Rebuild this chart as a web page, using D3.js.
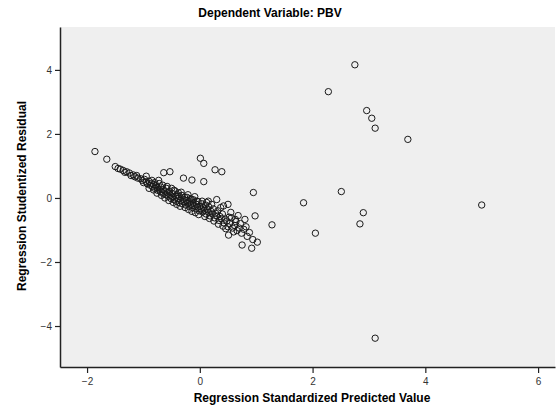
<!DOCTYPE html>
<html>
<head>
<meta charset="utf-8">
<script src="https://cdn.jsdelivr.net/npm/d3@7"></script>
<style>
  body { margin: 0; background: #fff; }
  svg { display: block; font-family: "Liberation Sans", Arial, sans-serif; }
</style>
</head>
<body>
<div class="vis-scatter"></div>
<script>
// standardized predicted value (x) and studentized residual (y)
const predicted = [
  -1.86, -1.65, -1.50, -1.45, -1.41, -1.36, -1.33, -1.30, -1.25, -1.22, -1.18, -1.15, -1.12, -1.10,
  -1.05, -1.02, -1.00, -0.98, -0.95, -0.93, -0.90, -0.88, -0.86, -0.84, -0.82, -0.82, -0.80,
  -0.78, -0.76, -0.75, -0.73, -0.72, -0.70, -0.69, -0.67, -0.65, -0.64, -0.64, -0.62, -0.60,
  -0.59, -0.57, -0.56, -0.54, -0.53, -0.52, -0.51, -0.49, -0.48, -0.46, -0.45, -0.43, -0.42,
  -0.40, -0.39, -0.37, -0.36, -0.34, -0.33, -0.31, -0.30, -0.29, -0.28, -0.27, -0.25, -0.24,
  -0.22, -0.21, -0.19, -0.18, -0.16, -0.15, -0.14, -0.13, -0.12, -0.10, -0.09, -0.07, -0.06,
  -0.04, -0.03, -0.01, 0.00, 0.01, 0.02, 0.03, 0.05, 0.06, 0.07, 0.07, 0.08, 0.10, 0.11,
  0.13, 0.15, 0.15, 0.16, 0.18, 0.20, 0.22, 0.24, 0.26, 0.27, 0.28, 0.30, 0.30, 0.32, 0.34,
  0.36, 0.38, 0.39, 0.40, 0.42, 0.43, 0.45, 0.48, 0.50, 0.50, 0.51, 0.53, 0.55, 0.56, 0.58,
  0.62, 0.63, 0.66, 0.68, 0.70, 0.74, 0.75, 0.78, 0.80, 0.84, 0.88, 0.92, 0.94, 0.95, 0.98,
  1.02, 1.28,
  -0.95, -0.90, -0.85, -0.80, -0.76, -0.72, -0.68, -0.66, -0.62, -0.58, -0.55, -0.50, -0.47,
  -0.44, -0.41, -0.38, -0.35, -0.32, -0.26, -0.23, -0.20, -0.17, -0.14, -0.11, -0.08, -0.05,
  -0.02, 0.04, 0.09, 0.12, 0.17, 0.21, 0.25, 0.33, 0.37, 0.41, 0.46, 0.52, 0.60, 0.64, 0.72, 0.82,
  1.84, 2.05, 2.28, 2.51, 2.75, 2.84, 2.90, 2.96, 3.05, 3.11, 3.11, 3.69, 5.00
];
const residual = [
  1.45, 1.21, 0.98, 0.92, 0.90, 0.86, 0.80, 0.82, 0.78, 0.70, 0.72, 0.66, 0.70, 0.62,
  0.60, 0.55, 0.48, 0.58, 0.50, 0.44, 0.52, 0.40, 0.46, 0.36, 0.42, 0.25, 0.30,
  0.38, 0.33, 0.24, 0.55, 0.28, 0.20, 0.34, 0.18, 0.26, 0.12, 0.79, 0.22, 0.10,
  0.30, 0.16, 0.05, 0.20, 0.82, 0.08, -0.02, 0.14, 0.02, 0.24, -0.06, 0.06, -0.10,
  0.10, -0.02, -0.14, 0.04, -0.08, 0.18, -0.18, -0.04, 0.62, -0.12, 0.02, -0.22, -0.08,
  -0.16, 0.10, -0.26, -0.12, -0.20, -0.04, 0.56, -0.30, -0.16, -0.24, 0.04, -0.34, -0.20,
  -0.28, -0.12, -0.40, -0.26, 1.24, -0.34, -0.18, -0.44, -0.30, 1.08, 0.51, -0.38, -0.22, -0.50,
  -0.36, -0.44, -0.10, -0.28, -0.56, -0.42, -0.50, -0.34, -0.62, 0.88, -0.48, -0.56, -0.05, -0.40, -0.70,
  -0.58, -0.64, 0.82, -0.50, -0.25, -0.78, -0.66, -0.72, -0.90, -0.20, -1.16, -0.80, -0.45, -0.62, -0.94,
  -0.86, -0.67, -1.02, -0.55, -0.94, -1.10, -1.47, -0.98, -0.67, -1.20, -1.08, -1.57, -1.30, 0.17, -0.56,
  -1.38, -0.84,
  0.68, 0.30, 0.55, 0.48, 0.15, 0.45, 0.08, 0.40, 0.00, 0.36, -0.08, 0.30, -0.14,
  0.22, -0.20, 0.16, -0.26, 0.08, -0.30, 0.02, -0.36, -0.02, -0.42, -0.06, -0.46, -0.10,
  -0.52, -0.10, -0.58, -0.14, -0.64, -0.20, -0.72, -0.82, -0.30, -0.88, -0.96, -0.60, -1.06, -0.74, -0.80, -0.90,
  -0.15, -1.10, 3.32, 0.20, 4.16, -0.81, -0.46, 2.73, 2.49, 2.18, -4.38, 1.83, -0.22
];
const xTicks = [-2, 0, 2, 4, 6];
const yTicks = [4, 2, 0, -2, -4];

const W = 557, H = 408;
const margin = { top: 27, right: 2, bottom: 41, left: 60 };
const width = W - margin.left - margin.right;
const height = H - margin.top - margin.bottom;

const svg = d3.select(".vis-scatter")
  .append("svg")
  .attr("width", W)
  .attr("height", H);

const g = svg.append("g")
  .attr("transform", "translate(" + margin.left + "," + margin.top + ")");

let x = d3.scaleLinear().domain([-2.48, 6.3]).range([0, width]);
let y = d3.scaleLinear().domain([-5.28, 5.34]).range([height, 0]);

g.append("rect")
  .attr("width", width)
  .attr("height", height)
  .attr("fill", "#efefef");

// x axis
const xa = g.append("g")
  .attr("transform", "translate(0," + height + ")")
  .call(d3.axisBottom(x).tickValues(xTicks).tickSize(6).tickSizeOuter(0).tickPadding(5));
// y axis
const ya = g.append("g")
  .call(d3.axisLeft(y).tickValues(yTicks).tickSize(5).tickSizeOuter(0).tickPadding(3));

[xa, ya].forEach(a => {
  a.select(".domain").attr("stroke", "#222").attr("stroke-width", 1.5);
  a.selectAll(".tick line").attr("stroke", "#222").attr("stroke-width", 1.2);
  a.selectAll(".tick text").attr("font-size", 10).attr("fill", "#333")
    .style("font-family", "Liberation Sans, Arial, sans-serif");
});

const pts = predicted.map((d, i) => ({ x: d, y: residual[i] }));

g.append("g")
  .selectAll("circle")
  .data(pts)
  .enter()
  .append("circle")
    .attr("cx", d => x(d.x))
    .attr("cy", d => y(d.y))
    .attr("r", 3.2)
    .attr("fill", "none")
    .attr("stroke", "#1a1a1a")
    .attr("stroke-width", 1);

// title and axis labels
svg.append("text")
  .attr("x", 270).attr("y", 17)
  .attr("text-anchor", "middle")
  .attr("font-size", 12).attr("font-weight", "bold")
  .text("Dependent Variable: PBV");

svg.append("text")
  .attr("x", 312).attr("y", 402)
  .attr("text-anchor", "middle")
  .attr("font-size", 12).attr("font-weight", "bold")
  .text("Regression Standardized Predicted Value");

svg.append("text")
  .attr("transform", "translate(26,196) rotate(-90)")
  .attr("text-anchor", "middle")
  .attr("font-size", 12).attr("font-weight", "bold")
  .text("Regression Studentized Residual");
</script>
</body>
</html>
